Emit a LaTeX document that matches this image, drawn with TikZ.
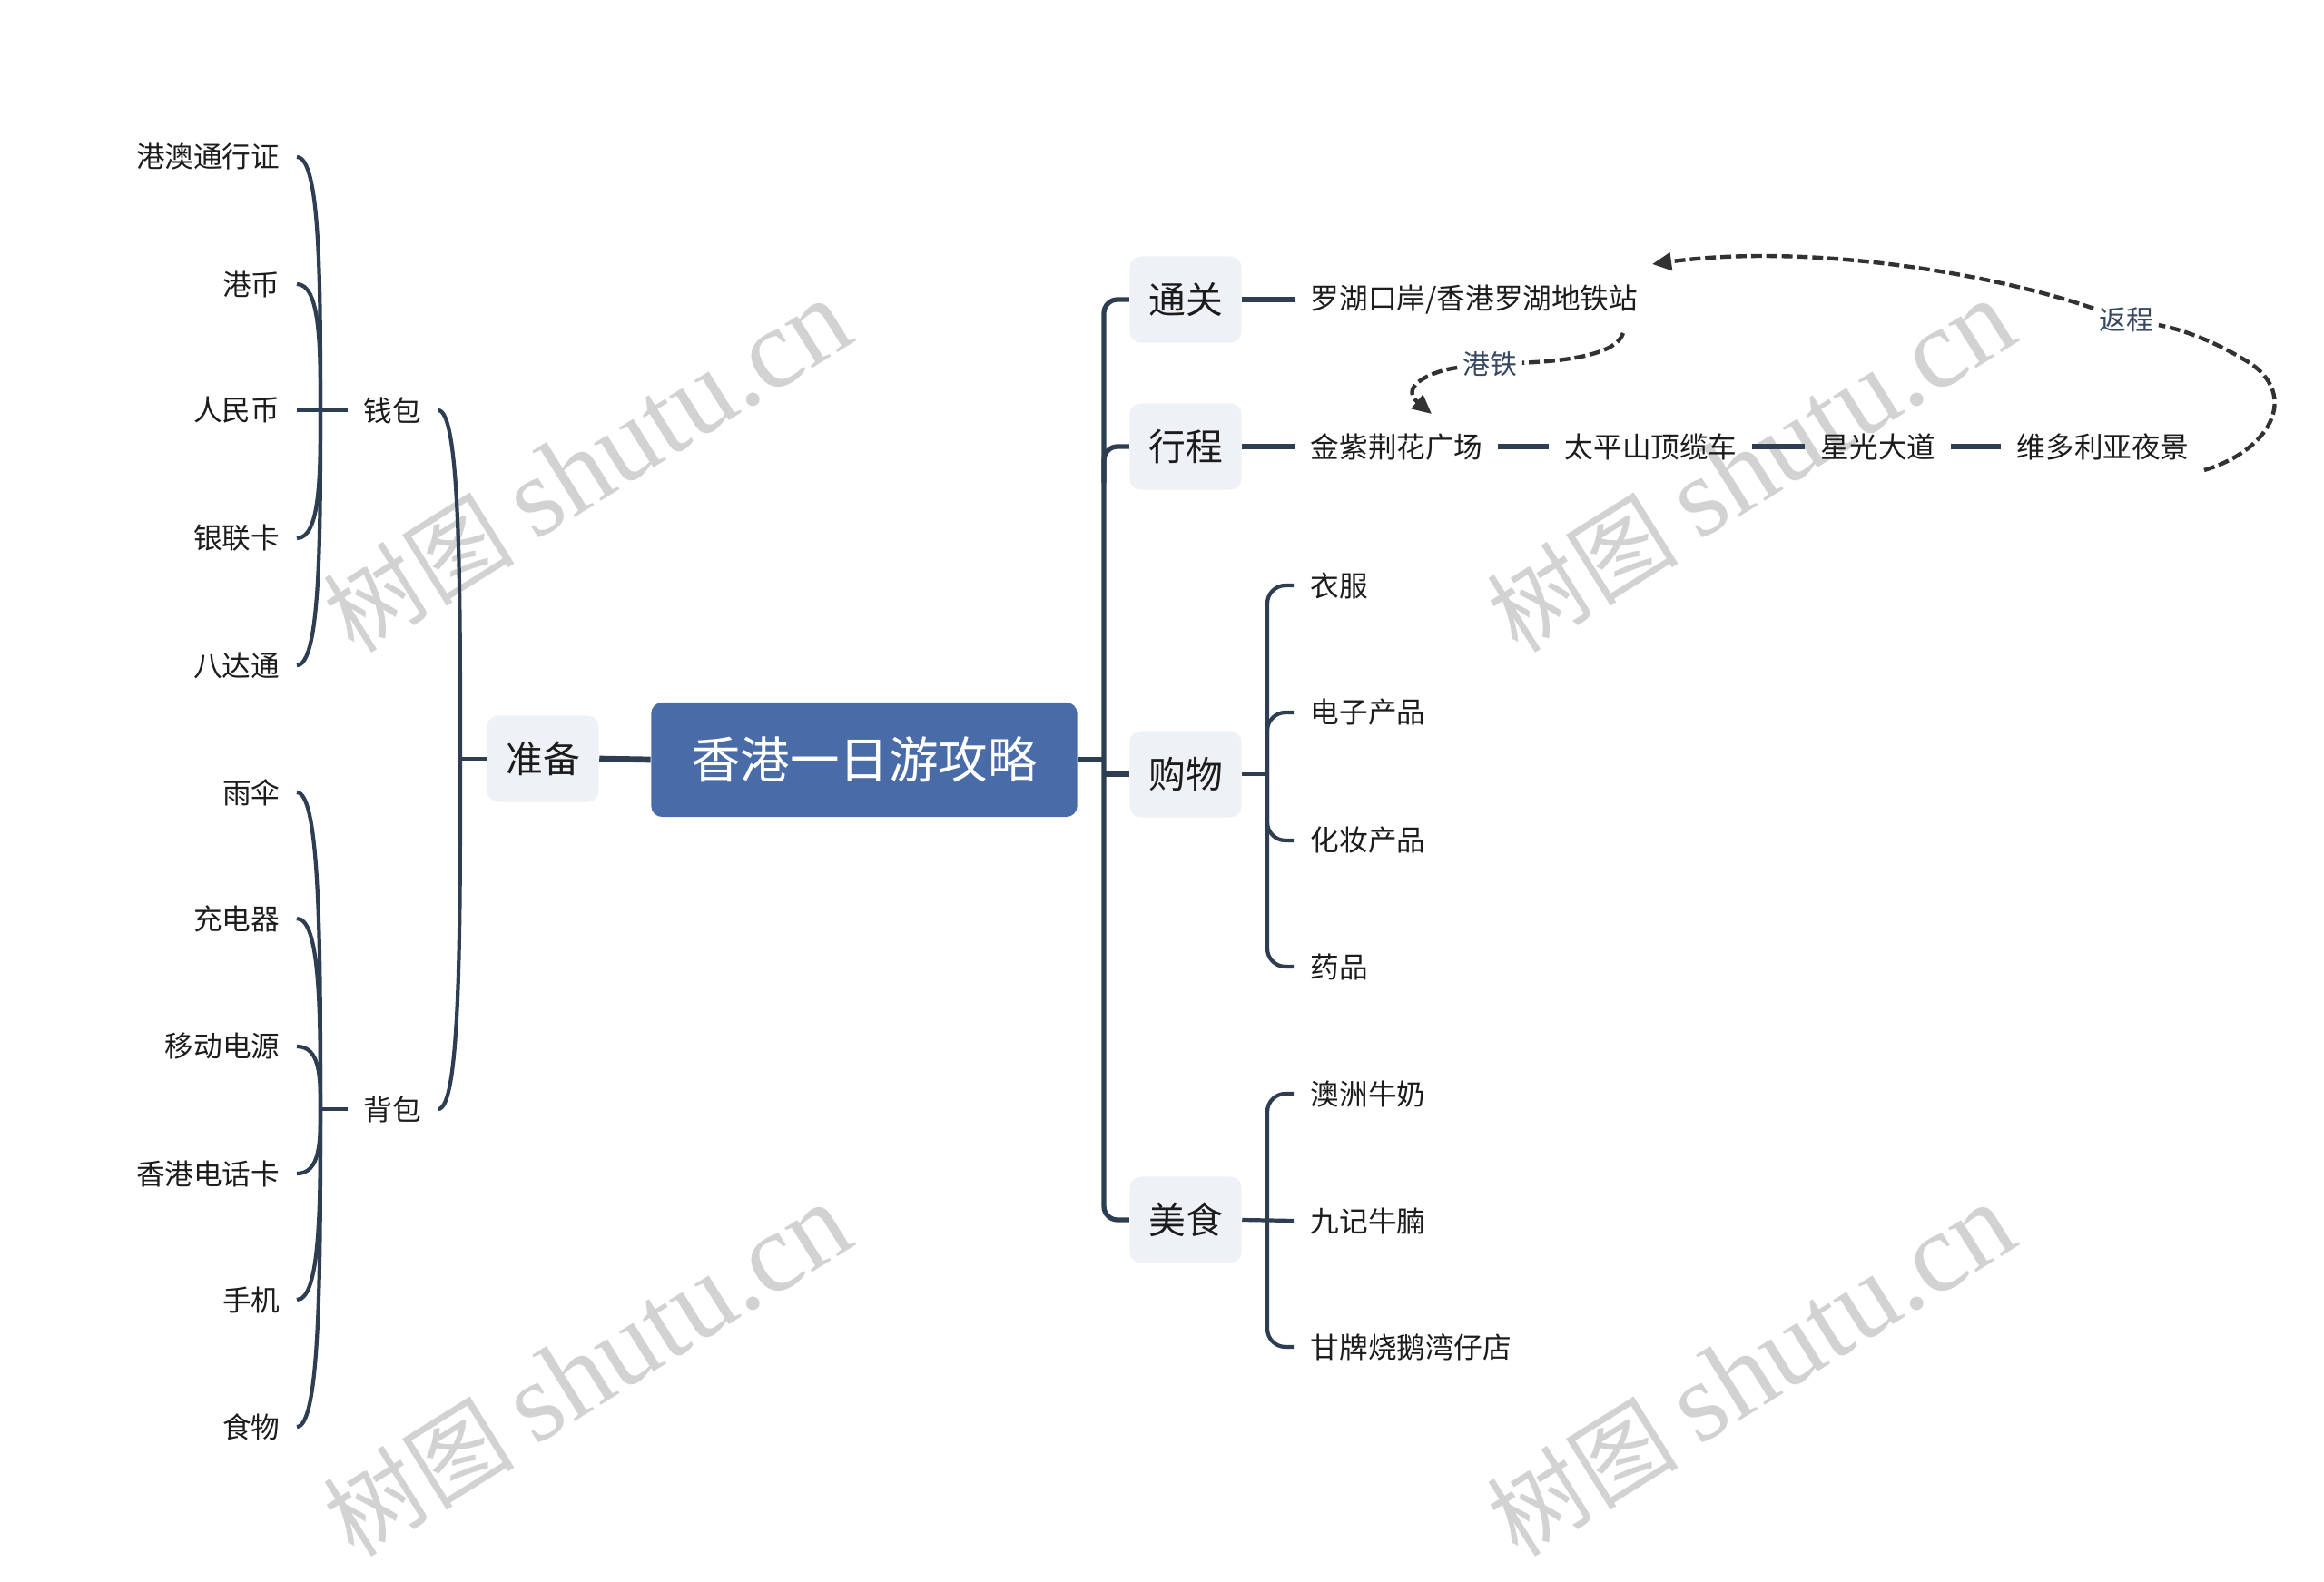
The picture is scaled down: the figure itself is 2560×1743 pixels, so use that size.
\documentclass[tikz,border=0pt]{standalone}
\usepackage{fontspec}
\setmainfont{Noto Sans CJK SC}
\newfontfamily\wmlatin{Liberation Serif}
\usetikzlibrary{arrows.meta, calc}

\definecolor{linecol}{RGB}{46,62,82}
\definecolor{rootblue}{RGB}{73,107,168}
\definecolor{branchfill}{RGB}{238,241,245}
\definecolor{textcol}{RGB}{28,28,28}
\definecolor{notecol}{RGB}{56,72,98}
\definecolor{dashcol}{RGB}{50,50,50}
\definecolor{wmgray}{RGB}{210,210,210}

\tikzset{
  rootbox/.style={fill=rootblue, rounded corners=0.12cm, minimum width=4.69cm, minimum height=1.26cm, text=white, font=\fontsize{15.5}{18}\selectfont},
  branchbox/.style={fill=branchfill, rounded corners=0.12cm, minimum width=1.23cm, minimum height=0.95cm, text=textcol, font=\fontsize{11.6}{14}\selectfont},
  leaf/.style={text=textcol, font=\fontsize{9}{11}\selectfont, inner sep=0pt},
  link/.style={draw=linecol, line width=1.5pt},
  twig/.style={draw=linecol, line width=1.2pt},
  jump/.style={draw=dashcol, line width=1.25pt, dash pattern=on 3.4pt off 1.4pt, -{Triangle[length=6pt,width=5.5pt]}},
  jumplabel/.style={fill=white, text=notecol, font=\fontsize{8.5}{10}\selectfont, inner sep=1.5pt},
  watermark/.style={text=wmgray, rotate=32, font=\fontsize{30}{36}\selectfont},
}

\begin{document}
\begin{tikzpicture}[x=0.01cm, y=-0.01cm]

% Fix the page size
\useasboundingbox (0,0) rectangle (2560,1743);

% Watermarks behind everything
\node[watermark] (wm1) at (647,514) {树图 {\wmlatin\fontsize{35.5}{40}\selectfont shutu.cn}};
\node[watermark] (wm2) at (1929,514) {树图 {\wmlatin\fontsize{35.5}{40}\selectfont shutu.cn}};
\node[watermark] (wm3) at (647,1510) {树图 {\wmlatin\fontsize{35.5}{40}\selectfont shutu.cn}};
\node[watermark] (wm4) at (1929,1510) {树图 {\wmlatin\fontsize{35.5}{40}\selectfont shutu.cn}};

% Central topic
\node[rootbox] (root) at (952,837) {香港一日游攻略};

% Left branch
\node[branchbox] (prep) at (598,836) {准备};
\node[leaf, anchor=west] (wallet) at (400,452) {钱包};
\node[leaf, anchor=west] (bag) at (400,1222) {背包};

% Items in the wallet
\node[leaf, anchor=east] (permit) at (309,173) {港澳通行证};
\node[leaf, anchor=east] (hkd) at (309,313) {港币};
\node[leaf, anchor=east] (rmb) at (309,452) {人民币};
\node[leaf, anchor=east] (unionpay) at (309,593) {银联卡};
\node[leaf, anchor=east] (octopus) at (309,733) {八达通};

% Items in the bag
\node[leaf, anchor=east] (umbrella) at (309,873) {雨伞};
\node[leaf, anchor=east] (charger) at (309,1012) {充电器};
\node[leaf, anchor=east] (powerbank) at (309,1153) {移动电源};
\node[leaf, anchor=east] (simcard) at (309,1293) {香港电话卡};
\node[leaf, anchor=east] (phone) at (309,1432) {手机};
\node[leaf, anchor=east] (snacks) at (309,1572) {食物};

% Right branches
\node[branchbox] (cross) at (1306,330) {通关};
\node[branchbox] (plan) at (1306,492) {行程};
\node[branchbox] (shop) at (1306,853) {购物};
\node[branchbox] (food) at (1306,1344) {美食};

% Border crossing
\node[leaf, anchor=west] (lowu) at (1443,330) {罗湖口岸/香港罗湖地铁站};

% Route of the day
\node[leaf, anchor=west] (bauhinia) at (1443,492) {金紫荆花广场};
\node[leaf, anchor=west] (peaktram) at (1723,492) {太平山顶缆车};
\node[leaf, anchor=west] (avenue) at (2005,492) {星光大道};
\node[leaf, anchor=west] (harbour) at (2221,492) {维多利亚夜景};

% Shopping
\node[leaf, anchor=west] (clothes) at (1443,645) {衣服};
\node[leaf, anchor=west] (gadgets) at (1443,785) {电子产品};
\node[leaf, anchor=west] (cosmetics) at (1443,926) {化妆产品};
\node[leaf, anchor=west] (medicine) at (1443,1065) {药品};

% Food
\node[leaf, anchor=west] (milk) at (1443,1205) {澳洲牛奶};
\node[leaf, anchor=west] (brisket) at (1443,1345) {九记牛腩};
\node[leaf, anchor=west] (goose) at (1443,1484) {甘牌烧鹅湾仔店};

% Root to left branch
\draw[link, line width=1.9pt] (root.west) -- (prep.east);

% Left spine: prep to wallet and bag
\coordinate (pj) at (507,836);
\draw[twig] (prep.west) -- (pj);
\coordinate (walletend) at ($(wallet.east)+(18,0)$);
\coordinate (bagend) at ($(bag.east)+(18,0)$);
\draw[twig] (pj) .. controls ($(pj)!0.5!(pj |- walletend)$) and (pj |- walletend) .. (walletend);
\draw[twig] (pj) .. controls ($(pj)!0.5!(pj |- bagend)$) and (pj |- bagend) .. (bagend);

% Wallet brace
\coordinate (wj) at (353,452);
\draw[twig] ($(wallet.west)+(-17,0)$) -- ($(rmb.east)+(18,0)$);
\foreach \n in {permit,hkd,unionpay,octopus}
  \draw[twig] (wj) .. controls ($(wj)!0.5!(wj |- \n.east)$) and (wj |- \n.east) .. ($(\n.east)+(18,0)$);

% Bag brace
\coordinate (bj) at (353,1222);
\draw[twig] ($(bag.west)+(-17,0)$) -- (bj);
\foreach \n in {umbrella,charger,powerbank,simcard,phone,snacks}
  \draw[twig] (bj) .. controls ($(bj)!0.5!(bj |- \n.east)$) and (bj |- \n.east) .. ($(\n.east)+(18,0)$);

% Right spine
\coordinate (rj) at (1216,837);
\draw[link, line width=1.9pt] (root.east) -- (rj);
\draw[link, rounded corners=0.15cm] (cross.west) -| (rj) |- (food.west);
\draw[link, rounded corners=0.15cm] ($(rj |- plan.west)+(0,40)$) |- (plan.west);
\draw[link] (rj |- shop.west) -- (shop.west);

% Border crossing and route links
\draw[link] (cross.east) -- ($(lowu.west)+(-17,0)$);
\draw[link] (plan.east) -- ($(bauhinia.west)+(-17,0)$);
\draw[link] ($(bauhinia.east)+(16,0)$) -- ($(peaktram.west)+(-17,0)$);
\draw[link] ($(peaktram.east)+(16,0)$) -- ($(avenue.west)+(-17,0)$);
\draw[link] ($(avenue.east)+(16,0)$) -- ($(harbour.west)+(-17,0)$);

% Shopping brace
\coordinate (sj) at (1396,853);
\draw[twig] (shop.east) -- (sj);
\foreach \n in {clothes,gadgets,cosmetics,medicine}
  \draw[twig, rounded corners=0.2cm] (sj) |- ($(\n.west)+(-18,0)$);

% Food brace
\coordinate (fj) at (1396,1344);
\draw[twig] (food.east) -- ($(brisket.west)+(-18,0)$);
\foreach \n in {milk,goose}
  \draw[twig, rounded corners=0.2cm] (fj) |- ($(\n.west)+(-18,0)$);

% Dashed jumps with their labels
\node[jumplabel] (metro) at (1641,401) {港铁};
\node[jumplabel] (return) at (2342,352) {返程};
\coordinate (metrostart) at (1788,367);
\coordinate (metrotip) at (1577,456);
\coordinate (returnstart) at (2428,518);
\coordinate (returntip) at (1820,291);
\draw[jump] (metrostart) .. controls (1780,392) and (1720,398) .. (metro)
  .. controls (1580,408) and (1540,425) .. (metrotip);
\draw[jump] (returnstart) .. controls (2505,495) and (2535,430) .. (2470,395)
  .. controls (2435,374) and (2400,362) .. (return)
  .. controls (2190,300) and (1990,268) .. (returntip);

\end{tikzpicture}
\end{document}
